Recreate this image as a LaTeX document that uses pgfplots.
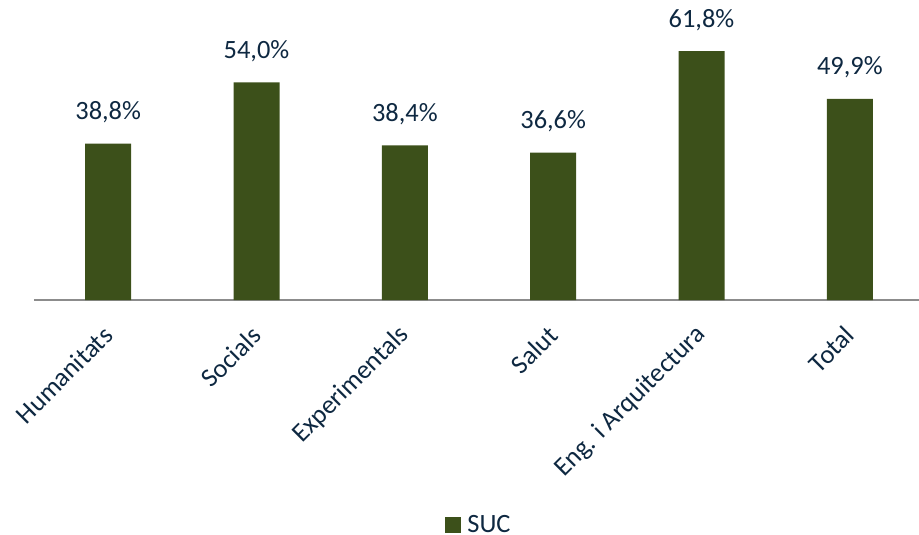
\documentclass[border=0pt]{standalone}
\usepackage{pgfplots}
\pgfplotsset{compat=1.18}
\usepackage{fontspec}
\setmainfont{Carlito}
\definecolor{barc}{HTML}{3C501A}
\definecolor{txt}{HTML}{0E2841}
\definecolor{axc}{HTML}{8C8C8C}
\begin{document}
\begin{tikzpicture}
\begin{axis}[
  scale only axis,
  width=890bp, height=282bp,
  ymin=0, ymax=70,
  xmin=-0.5, xmax=5.5,
  axis x line=bottom,
  axis y line=none,
  axis line style={draw=axc, line width=1.3bp, -},
  x axis line style={-},
  xtick=data,
  xticklabels={Humanitats,Socials,Experimentals,Salut,Eng. i Arquitectura,Total},
  major tick length=0pt,
  xticklabel style={font=\fontsize{26.5}{30}\selectfont, text=txt, inner sep=0pt, xshift=0bp, yshift=-31bp, rotate=45, anchor=east},
  ytick=\empty,
  clip=false,
  ybar,
  bar width=46bp,
  nodes near coords={\pgfmathprintnumber[fixed,fixed zerofill,precision=1,use comma,assume math mode=true]{\pgfplotspointmeta}\%},
  nodes near coords style={font=\fontsize{26.5}{30}\selectfont, text=txt, inner sep=0pt, anchor=base, yshift=24bp},
  legend style={at={(0.5,-0.797)}, anchor=center, draw=none, font=\fontsize{26.5}{30}\selectfont, text=txt, inner sep=0pt},
  legend image code/.code={\fill[#1] (0bp,-8bp) rectangle (16bp,8bp); \path (20bp,0bp);},
]
\addplot[fill=barc, draw=none] coordinates {(0,38.8) (1,54.0) (2,38.4) (3,36.6) (4,61.8) (5,49.9)};
\addlegendentry{SUC}
\end{axis}
\pgfresetboundingbox
\useasboundingbox ([xshift=-34bp,yshift=-235bp]current axis.south west) rectangle ([xshift=885bp,yshift=300bp]current axis.south west);
\end{tikzpicture}
\end{document}
